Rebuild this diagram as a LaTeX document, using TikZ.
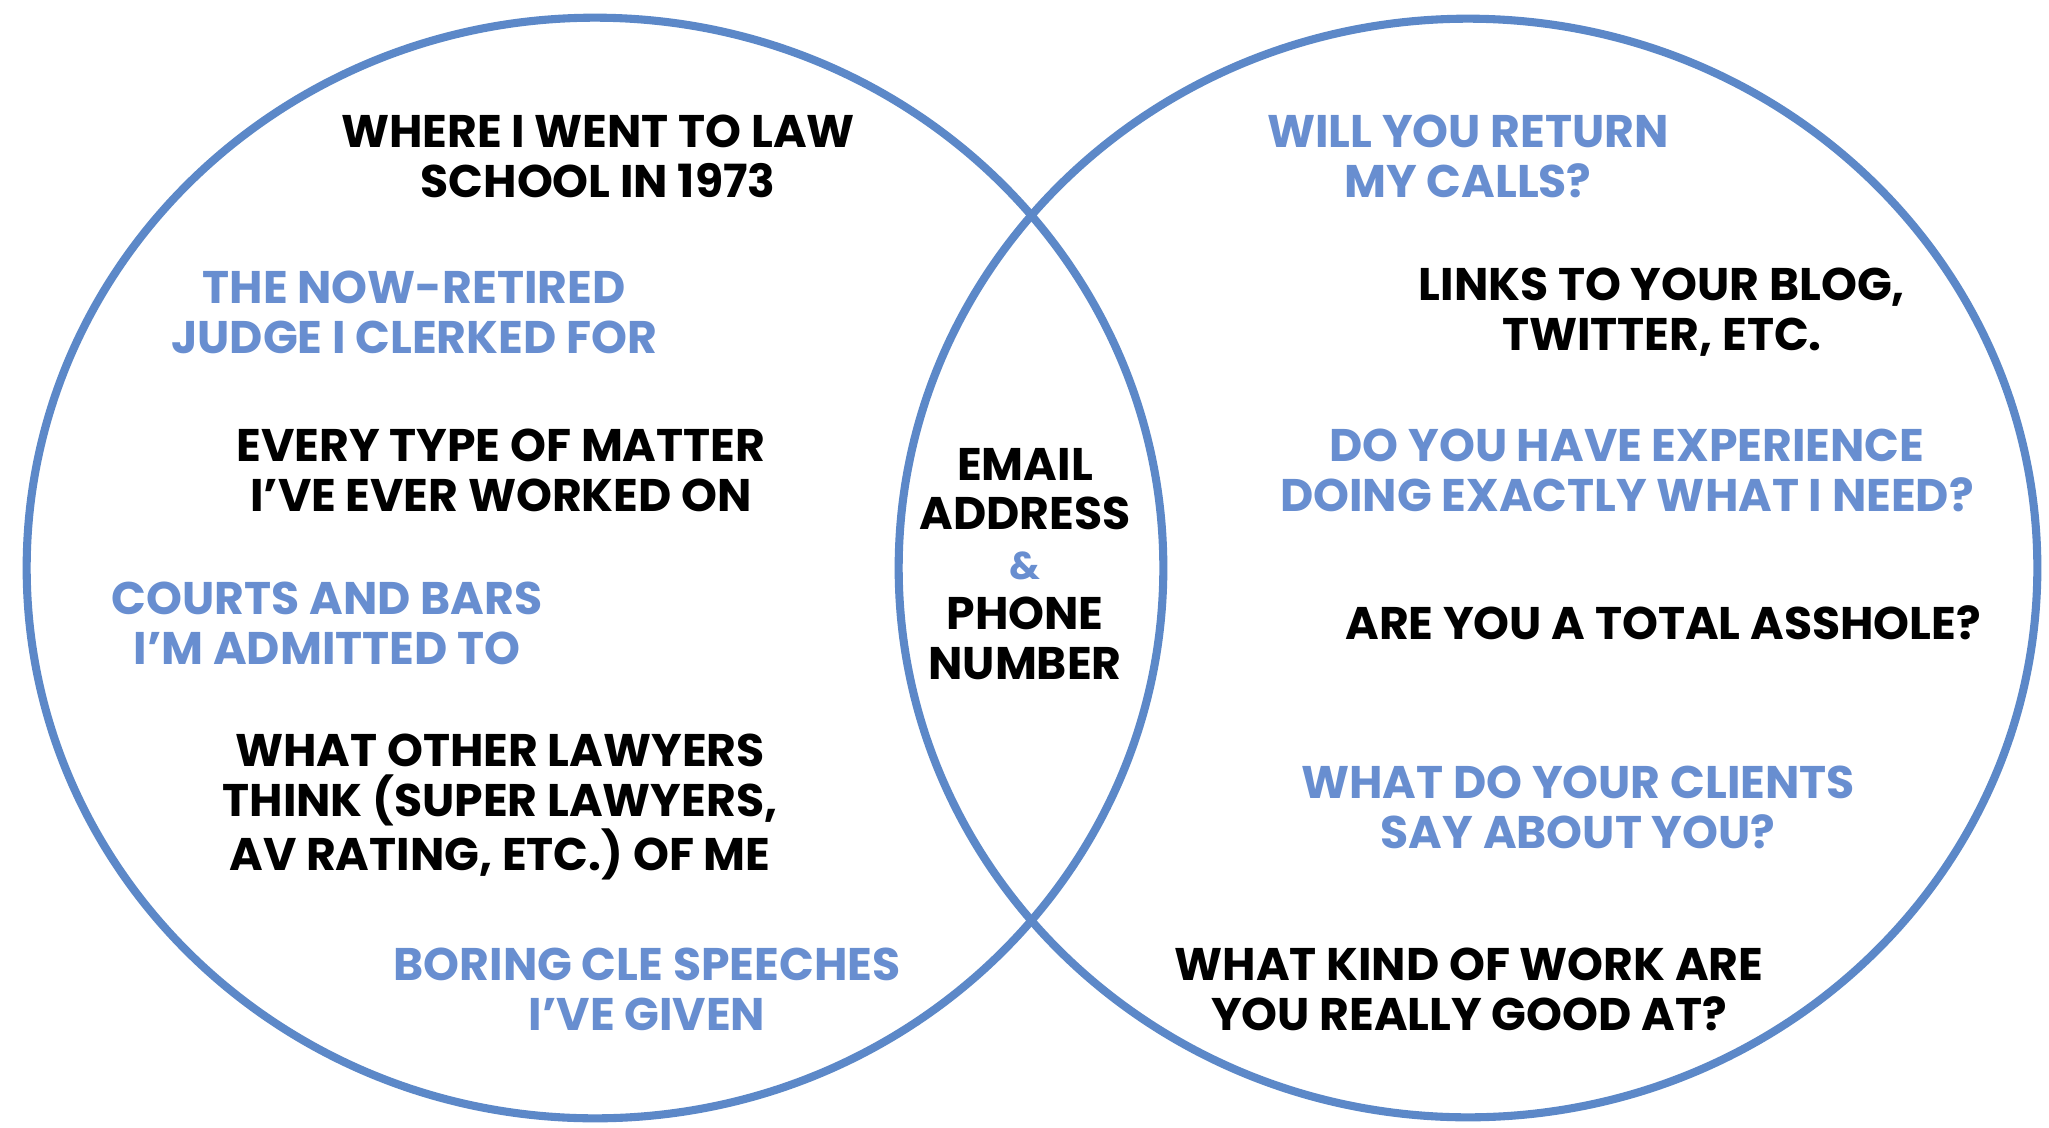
\documentclass[tikz,border=0pt]{standalone}
\usepackage{fontspec}
\setmainfont{Poppins}
\definecolor{ringblue}{RGB}{92,136,200}
\definecolor{txtblue}{RGB}{104,142,208}
\tikzset{
  ring/.style={draw=ringblue, line width=2.3pt},
  lbl/.style={align=center, font=\fontsize{13}{14.2}\selectfont\bfseries, inner sep=0pt, text=black},
  blbl/.style={lbl, text=txtblue}
}
\begin{document}
\begin{tikzpicture}[x=0.01cm,y=-0.01cm]
\useasboundingbox[fill=white] (0,0) rectangle (2049,1127);
\draw[ring] (595,568) ellipse [x radius=5.68cm, y radius=5.50cm];
\draw[ring] (1468,568) ellipse [x radius=5.69cm, y radius=5.49cm];
% left
\node[lbl]  (law)    at (598,156) {WHERE I WENT TO LAW\\SCHOOL IN 1973};
\node[blbl] (judge)  at (414,312) {THE NOW-RETIRED\\JUDGE I CLERKED FOR};
\node[lbl]  (matter) at (501,470) {EVERY TYPE OF MATTER\\I’VE EVER WORKED ON};
\node[blbl] (courts) at (327,623) {COURTS AND BARS\\I’M ADMITTED TO};
\node[lbl]  (others) at (500,807) {WHAT OTHER LAWYERS\\THINK (SUPER LAWYERS,\\AV RATING, ETC.) OF ME};
\node[blbl] (cle)    at (647,989) {BORING CLE SPEECHES\\I’VE GIVEN};
% middle
\node[lbl]  (email)  at (1025,564) {EMAIL\\ADDRESS\\{\color{txtblue}\fontsize{11}{14.2}\selectfont\&}\\PHONE\\NUMBER};
% right
\node[blbl] (calls)  at (1468,156) {WILL YOU RETURN\\MY CALLS?};
\node[lbl]  (links)  at (1662,312) {LINKS TO YOUR BLOG,\\TWITTER, ETC.};
\node[blbl] (exp)    at (1627,470) {DO YOU HAVE EXPERIENCE\\DOING EXACTLY WHAT I NEED?};
\node[lbl]  (ass)    at (1663,623) {ARE YOU A TOTAL ASSHOLE?};
\node[blbl] (clients) at (1578,807) {WHAT DO YOUR CLIENTS\\SAY ABOUT YOU?};
\node[lbl]  (work)   at (1469,989) {WHAT KIND OF WORK ARE\\YOU REALLY GOOD AT?};
\end{tikzpicture}
\end{document}
